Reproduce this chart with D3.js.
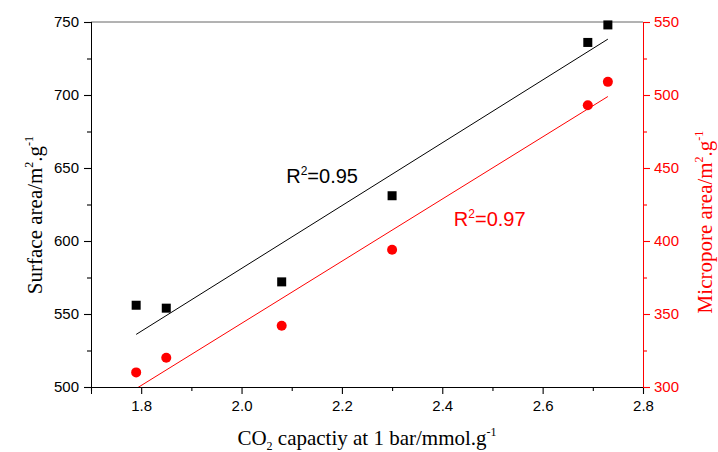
<!DOCTYPE html>
<html>
<head>
<meta charset="utf-8">
<script src="https://cdn.jsdelivr.net/npm/d3@7"></script>
<style>
  html, body { margin: 0; padding: 0; background: #fff; }
  svg { display: block; }
  .tick text { font-family: "Liberation Sans", Arial, sans-serif; font-size: 15px; }
  .serif { font-family: "Liberation Serif", "Times New Roman", serif; }
</style>
</head>
<body>
<div id="chart"></div>
<script>
/* data */
const co2Capacity   = [1.79, 1.85, 2.08, 2.30, 2.69, 2.73];
const surfaceArea   = [556, 554, 572, 631, 736, 748];
const microporeArea = [310, 320, 342, 394, 493, 509];

const xTicks      = [1.8, 2.0, 2.2, 2.4, 2.6, 2.8];
const xMinorTicks = [1.7, 1.9, 2.1, 2.3, 2.5, 2.7];
const yLeftTicks  = [500, 550, 600, 650, 700, 750];
const yRightTicks = [300, 350, 400, 450, 500, 550];

const r2Labels = ["0.95", "0.97"];

/* ───────── layout ───────── */
const W = 718, H = 452;
const margin = { top: 22, right: 75, bottom: 65, left: 91 };
const w = W - margin.left - margin.right;
const h = H - margin.top - margin.bottom;

const x  = d3.scaleLinear().domain([1.7, 2.8]).range([0, w]);
const yL = d3.scaleLinear().domain([500, 750]).range([h, 0]);
const yR = d3.scaleLinear().domain([300, 550]).range([h, 0]);

const svg = d3.select("#chart").append("svg")
  .attr("width", W).attr("height", H);
const g = svg.append("g").attr("transform", `translate(${margin.left},${margin.top})`);

svg.append("defs").append("clipPath").attr("id", "plot-clip")
  .append("rect").attr("width", w).attr("height", h);

// least-squares fit of a series
function fit(xs, ys) {
  const mx = d3.mean(xs), my = d3.mean(ys);
  const sxy = d3.sum(xs, (v, i) => (v - mx) * (ys[i] - my));
  const sxx = d3.sum(xs, v => (v - mx) * (v - mx));
  const b = sxy / sxx;
  return v => my + b * (v - mx);
}

/* ───────── frame ───────── */
g.append("line")
  .attr("x1", 0).attr("x2", w).attr("y1", 0).attr("y2", 0)
  .attr("stroke", "#666").attr("stroke-width", 1);

// bottom axis
const xMinor = g.append("g").attr("transform", `translate(0,${h})`)
  .call(d3.axisBottom(x).tickValues(xMinorTicks).tickSize(4).tickFormat(""));
const xAxis = g.append("g").attr("transform", `translate(0,${h})`)
  .call(d3.axisBottom(x).tickValues(xTicks).tickSize(7).tickPadding(6).tickFormat(d3.format(".1f")));

// left axis
const yMinorL = g.append("g")
  .call(d3.axisLeft(yL).tickValues([525, 575, 625, 675, 725]).tickSize(4).tickFormat(""));
const yAxisL = g.append("g")
  .call(d3.axisLeft(yL).tickValues(yLeftTicks).tickSize(7).tickPadding(5));

// right axis (red)
const yMinorR = g.append("g").attr("transform", `translate(${w},0)`)
  .call(d3.axisRight(yR).tickValues([325, 375, 425, 475, 525]).tickSize(4).tickFormat(""));
const yAxisR = g.append("g").attr("transform", `translate(${w},0)`)
  .call(d3.axisRight(yR).tickValues(yRightTicks).tickSize(7).tickPadding(4));

[xMinor, xAxis, yMinorL, yAxisL].forEach(a => {
  a.selectAll(".domain").attr("stroke", "#000").attr("stroke-width", 1.3);
  a.selectAll(".tick line").attr("stroke", "#000").attr("stroke-width", 1.1);
  a.selectAll(".tick text").attr("fill", "#000");
});
[yMinorR, yAxisR].forEach(a => {
  a.selectAll(".domain").attr("stroke", "#f00").attr("stroke-width", 1.3);
  a.selectAll(".tick line").attr("stroke", "#f00").attr("stroke-width", 1.1);
  a.selectAll(".tick text").attr("fill", "#f00");
});
svg.selectAll(".domain").each(function () { this.setAttribute("shape-rendering", "crispEdges"); });

/* ───────── fit lines ───────── */
const plot = g.append("g").attr("clip-path", "url(#plot-clip)");
const xEnds = d3.extent(co2Capacity);

const fitL = fit(co2Capacity, surfaceArea);
plot.append("line")
  .attr("x1", x(xEnds[0])).attr("x2", x(xEnds[1]))
  .attr("y1", yL(fitL(xEnds[0]))).attr("y2", yL(fitL(xEnds[1])))
  .attr("stroke", "#000").attr("stroke-width", 1);

const fitR = fit(co2Capacity, microporeArea);
plot.append("line")
  .attr("x1", x(xEnds[0])).attr("x2", x(xEnds[1]))
  .attr("y1", yR(fitR(xEnds[0]))).attr("y2", yR(fitR(xEnds[1])))
  .attr("stroke", "#f00").attr("stroke-width", 1);

/* ───────── markers ───────── */
const sq = 9;
g.selectAll(".sq").data(co2Capacity).join("rect")
  .attr("class", "sq")
  .attr("x", d => x(d) - sq / 2)
  .attr("y", (d, i) => yL(surfaceArea[i]) - sq / 2)
  .attr("width", sq).attr("height", sq)
  .attr("fill", "#000");

g.selectAll(".dot").data(co2Capacity).join("circle")
  .attr("class", "dot")
  .attr("cx", d => x(d))
  .attr("cy", (d, i) => yR(microporeArea[i]))
  .attr("r", 5)
  .attr("fill", "#f00");

/* ───────── R² labels ───────── */
function r2Text(px, py, val, color) {
  const t = g.append("text")
    .attr("x", px).attr("y", py)
    .attr("fill", color)
    .attr("font-family", "Liberation Sans, Arial, sans-serif")
    .attr("font-size", "20px");
  t.append("tspan").text("R");
  t.append("tspan").attr("dy", -8).attr("font-size", "12px").text("2");
  t.append("tspan").attr("dy", 8).text("=" + val);
}
r2Text(x(2.089), yL(640), r2Labels[0], "#000");
r2Text(x(2.423), yR(410), r2Labels[1], "#f00");

/* ───────── axis titles ───────── */
const xt = svg.append("text").attr("class", "serif")
  .attr("x", margin.left + w / 2).attr("y", 445)
  .attr("text-anchor", "middle").attr("font-size", "21px").attr("fill", "#000");
xt.append("tspan").text("CO");
xt.append("tspan").attr("dy", 5).attr("font-size", "12px").text("2");
xt.append("tspan").attr("dy", -5).text(" capactiy at 1 bar/mmol.g");
xt.append("tspan").attr("dy", -9).attr("font-size", "12px").text("-1");

function yTitle(cx, cy, label, color) {
  const t = svg.append("text").attr("class", "serif")
    .attr("transform", `translate(${cx},${cy}) rotate(-90)`)
    .attr("text-anchor", "middle").attr("font-size", "21px").attr("fill", color);
  t.append("tspan").text(label);
  t.append("tspan").attr("dy", -9).attr("font-size", "12px").text("2");
  t.append("tspan").attr("dy", 9).text(".g");
  t.append("tspan").attr("dy", -9).attr("font-size", "12px").text("-1");
}
yTitle(42, 215, "Surface area/m", "#000");
yTitle(712, 222, "Micropore area/m", "#f00");
</script>
</body>
</html>
